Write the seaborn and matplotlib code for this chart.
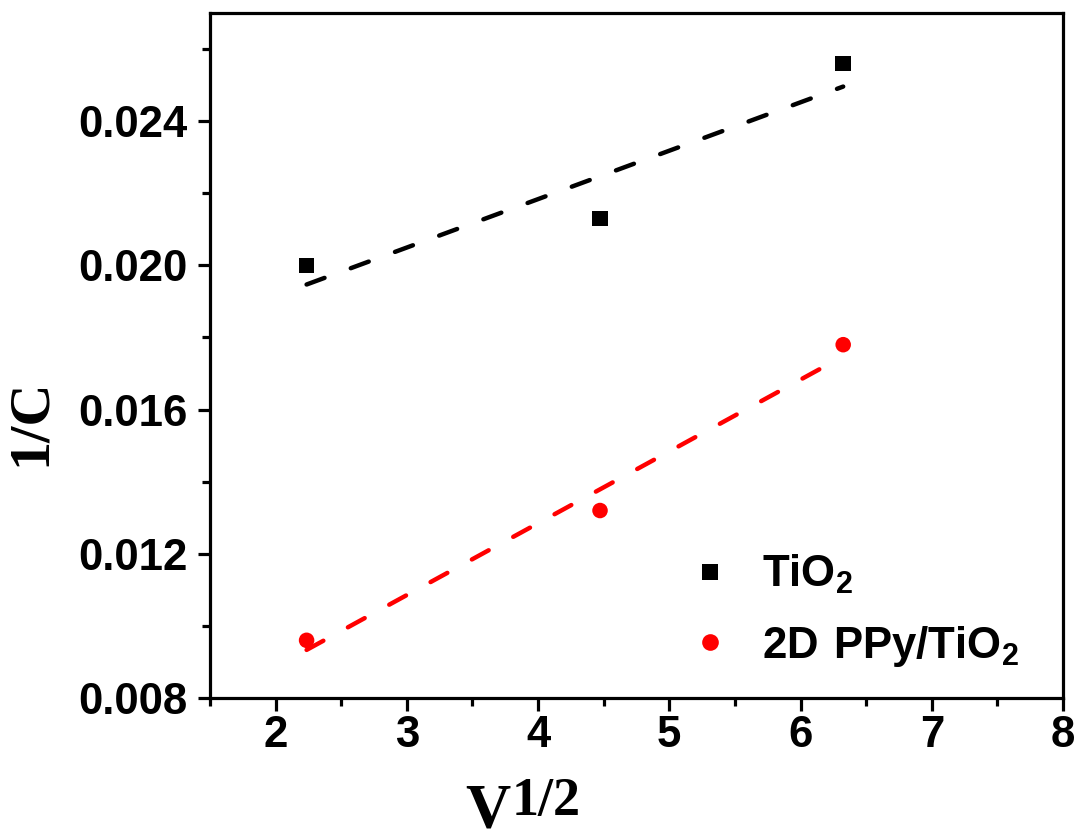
import numpy as np
import pandas as pd
import seaborn as sns
import matplotlib
matplotlib.use("Agg")
import matplotlib.pyplot as plt
from matplotlib.lines import Line2D
from matplotlib.ticker import MultipleLocator

# ---- data ----
sqrt_v = [2.236, 4.472, 6.325]
inv_c_tio2 = [0.0200, 0.0213, 0.0256]
inv_c_ppy = [0.0096, 0.0132, 0.0178]
series_names = ["TiO2", "2D PPy/TiO2"]
legend_labels = [r"$\mathregular{TiO_2}$", r"$\mathregular{2D\ PPy/TiO_2}$"]
series_colors = ["black", "red"]
series_markers = ["s", "o"]
x_ticks = [2, 3, 4, 5, 6, 7, 8]
y_ticks = [0.008, 0.012, 0.016, 0.020, 0.024]
y_tick_labels = ["0.008", "0.012", "0.016", "0.020", "0.024"]

sns.set_theme(style="ticks")
plt.rcParams["font.family"] = ["Liberation Sans", "DejaVu Sans"]
plt.rcParams["font.weight"] = "bold"
plt.rcParams["mathtext.fontset"] = "custom"
plt.rcParams["mathtext.rm"] = "Liberation Sans:bold"
plt.rcParams["mathtext.bf"] = "Liberation Sans:bold"
plt.rcParams["mathtext.default"] = "regular"

df = pd.DataFrame({
    "x": sqrt_v * 2,
    "y": inv_c_tio2 + inv_c_ppy,
    "series": [series_names[0]] * 3 + [series_names[1]] * 3,
})

fig = plt.figure(figsize=(10.77, 8.4), dpi=100)
ax = fig.add_axes([210 / 1077, 142 / 840, 853 / 1077, 685 / 840])

# fitted dashed lines
for name, yy, col in zip(series_names, [inv_c_tio2, inv_c_ppy], series_colors):
    sns.regplot(x=sqrt_v, y=yy, ci=None, scatter=False, color=col, ax=ax,
                line_kws=dict(lw=3.2, linestyle=(0, (4.3, 6.3)),
                              dash_capstyle="round"))

# data points
sns.scatterplot(data=df, x="x", y="y", hue="series", style="series",
                palette=dict(zip(series_names, series_colors)),
                markers=dict(zip(series_names, series_markers)),
                s=125, linewidth=0, legend=False, ax=ax, zorder=3)

ax.set_xlim(1.5, 8)
ax.set_ylim(0.008, 0.027)
ax.set_xticks(x_ticks)
ax.set_xticklabels([str(t) for t in x_ticks])
ax.set_yticks(y_ticks)
ax.set_yticklabels(y_tick_labels)
ax.xaxis.set_minor_locator(MultipleLocator(0.5))
ax.yaxis.set_minor_locator(MultipleLocator(0.002))

for sp in ax.spines.values():
    sp.set_linewidth(2.3)
    sp.set_color("black")
    sp.set_visible(True)

ax.tick_params(axis="both", which="major", direction="out", length=9, width=2.3,
               color="black", labelsize=31.5, labelcolor="black")
ax.tick_params(axis="both", which="minor", direction="out", length=5.5, width=2.3,
               color="black")
ax.tick_params(axis="x", which="major", pad=3)
ax.tick_params(axis="y", which="major", pad=7)
ax.tick_params(top=False, right=False, which="both")
for lab in ax.get_xticklabels() + ax.get_yticklabels():
    lab.set_fontweight("bold")
    lab.set_fontfamily(["Liberation Sans", "DejaVu Sans"])

# axis labels
ax.set_ylabel("1/C", fontsize=42, fontweight="bold",
              fontfamily=["Liberation Serif", "DejaVu Serif"], color="black")
ax.yaxis.set_label_coords(-0.180, 0.403)
ax.set_xlabel("")
fig.text(465 / 1077, 1 - 827 / 840, "V", ha="left", va="baseline", fontsize=45,
         fontweight="bold", fontfamily=["Liberation Serif", "DejaVu Serif"], color="black")
fig.text(512 / 1077, 1 - 815 / 840, "1/2", ha="left", va="baseline", fontsize=39,
         fontweight="bold", fontfamily=["Liberation Serif", "DejaVu Serif"], color="black")

# legend
handles = [Line2D([], [], linestyle="none", marker=m, color=c, markersize=ms,
                  markeredgewidth=0)
           for m, c, ms in zip(series_markers, series_colors, [11, 12])]
leg = ax.legend(handles, legend_labels, loc="upper left",
                bbox_to_anchor=(688 / 1077, 1 - 553 / 840),
                bbox_transform=fig.transFigure, frameon=False,
                fontsize=31.5, handlelength=1.0, handletextpad=0.7,
                labelspacing=0.63, borderpad=0, borderaxespad=0)
for t in leg.get_texts():
    t.set_fontweight("bold")
    t.set_color("black")

fig.savefig("out.png", dpi=100, facecolor="white")
